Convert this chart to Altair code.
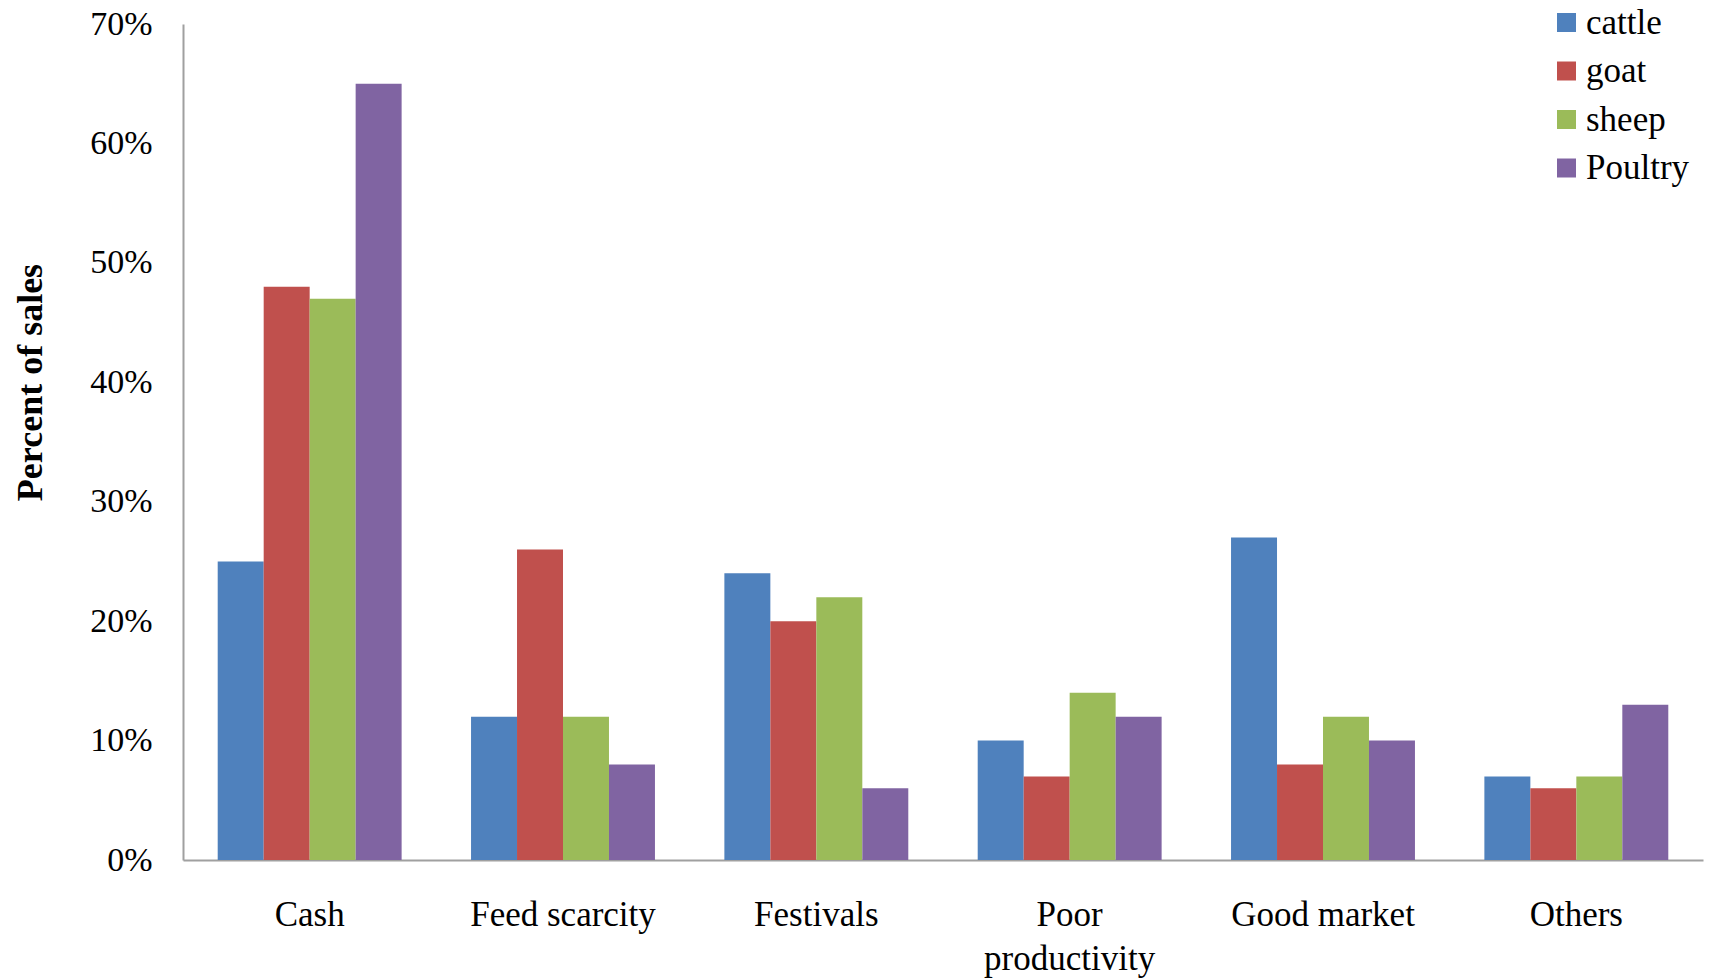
import altair as alt
import pandas as pd

categories = ["Cash", "Feed scarcity", "Festivals", "Poor productivity", "Good market", "Others"]
animals = ["cattle", "goat", "sheep", "Poultry"]
colors = ["#4F81BD", "#C0504D", "#9BBB59", "#8064A2"]
cattle = [25, 12, 24, 10, 27, 7]
goat = [48, 26, 20, 7, 8, 6]
sheep = [47, 12, 22, 14, 12, 7]
poultry = [65, 8, 6, 12, 10, 13]

series = {"cattle": cattle, "goat": goat, "sheep": sheep, "Poultry": poultry}
rows = []
for a in animals:
    for c, v in zip(categories, series[a]):
        rows.append({"reason": c, "animal": a, "value": v / 100})
df = pd.DataFrame(rows)

FONT = "Liberation Serif"

chart = alt.Chart(df).mark_bar().encode(
    x=alt.X(
        "reason:N",
        sort=categories,
        scale=alt.Scale(paddingInner=0.274, paddingOuter=0.137),
        axis=alt.Axis(
            title=None,
            labelAngle=0,
            ticks=False,
            labelPadding=37,
            labelFontSize=35,
            labelFont=FONT,
            labelColor="black",
            labelLineHeight=44,
            labelLimit=0,
            labelExpr="datum.label == 'Poor productivity' ? ['Poor', 'productivity'] : datum.label",
            domainColor="#A0A0A0",
            domainWidth=2,
        ),
    ),
    xOffset=alt.XOffset("animal:N", sort=animals, scale=alt.Scale(paddingInner=0, paddingOuter=0)),
    y=alt.Y(
        "value:Q",
        scale=alt.Scale(domain=[0, 0.7], nice=False),
        axis=alt.Axis(
            title="Percent of sales",
            format=".0%",
            values=[0, 0.1, 0.2, 0.3, 0.4, 0.5, 0.6, 0.7],
            grid=False,
            ticks=False,
            labelPadding=31,
            labelFontSize=34,
            labelFont=FONT,
            labelColor="black",
            domainColor="#A0A0A0",
            domainWidth=2,
            titleFont=FONT,
            titleFontSize=36,
            titleFontWeight="bold",
            titleColor="black",
            titleAngle=270,
            titleX=-153,
            titleY=358,
            titleAlign="center",
            titleBaseline="middle",
        ),
    ),
    color=alt.Color(
        "animal:N",
        sort=animals,
        scale=alt.Scale(domain=animals, range=colors),
        legend=alt.Legend(
            title=None,
            orient="none",
            legendX=1366,
            legendY=-19,
            symbolType="square",
            symbolSize=361,
            symbolStrokeWidth=0,
            labelFont=FONT,
            labelFontSize=35,
            labelColor="black",
            labelOffset=2,
            rowPadding=12.5,
            padding=0,
        ),
    ),
).properties(
    width=1520,
    height=836,
    autosize=alt.AutoSizeParams(type="none"),
    padding={"left": 183, "top": 24, "right": 13, "bottom": 120},
).configure(background="white").configure_view(stroke=None)

chart.save("out.html", embed_options={"renderer": "svg", "actions": False})
